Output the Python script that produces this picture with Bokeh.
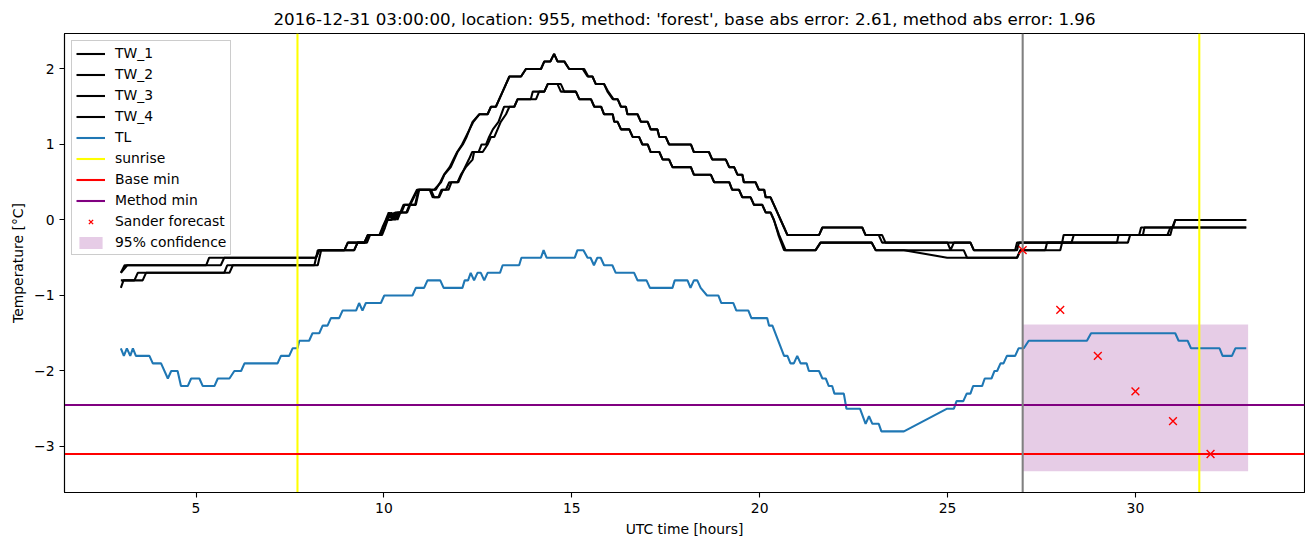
from bokeh.plotting import figure
from bokeh.models import Range1d, FixedTicker, Legend, LegendItem
from bokeh.embed import file_html
from bokeh.resources import INLINE

TITLE = "2016-12-31 03:00:00, location: 955, method: 'forest', base abs error: 2.61, method abs error: 1.96"

# ---------------- data ----------------
tw1_t = [3.0, 3.1, 5.27, 5.35, 8.19, 8.28, 8.95, 9.04, 9.48, 9.57, 9.88, 9.96, 10.05, 10.13, 10.22, 10.3,
         10.47, 10.55, 10.85, 10.94, 11.34, 11.52, 11.61, 11.78, 11.87, 11.96, 12.1, 12.2, 12.28, 12.36,
         12.54, 12.76, 12.85, 12.98, 13.16, 13.34, 13.65, 13.78, 14.18, 14.27, 14.43, 14.53, 14.62, 14.80,
         14.93, 15.29, 15.42, 15.55, 15.64, 15.86, 15.95, 16.09, 16.22, 16.31, 16.44, 16.48, 16.75, 16.84,
         17.02, 17.10, 17.28, 17.33, 17.50, 17.59, 18.17, 18.25, 18.65, 18.74, 19.10, 19.19, 19.32, 19.41,
         19.54, 19.58, 19.89, 19.98, 20.12, 20.16, 20.29, 20.38, 20.47, 20.56, 20.65, 20.74, 21.58, 21.67,
         22.73, 22.82, 23.26, 23.35, 25.61, 25.70, 26.80, 26.85, 28.05, 28.09, 30.10, 30.15, 30.98, 31.06,
         32.95]
tw1_v = [-0.7, -0.6, -0.6, -0.5, -0.5, -0.4, -0.4, -0.3, -0.3, -0.2, -0.2, -0.1, 0.0, 0.1, 0.0, 0.1,
         0.1, 0.2, 0.2, 0.4, 0.4, 0.5, 0.6, 0.7, 0.8, 0.9, 1.0, 1.1, 1.2, 1.3,
         1.4, 1.4, 1.5, 1.5, 1.7, 1.9, 1.9, 2.0, 2.0, 2.1, 2.1, 2.2, 2.1, 2.1,
         2.0, 2.0, 1.9, 1.9, 1.8, 1.8, 1.7, 1.6, 1.6, 1.5, 1.5, 1.4, 1.4, 1.3,
         1.3, 1.2, 1.2, 1.1, 1.1, 1.0, 1.0, 0.9, 0.9, 0.8, 0.8, 0.7, 0.7, 0.6,
         0.6, 0.5, 0.5, 0.4, 0.4, 0.3, 0.3, 0.2, 0.1, 0.0, -0.1, -0.2, -0.2, -0.1,
         -0.1, -0.2, -0.2, -0.3, -0.3, -0.4, -0.4, -0.3, -0.3, -0.2, -0.2, -0.1, -0.1, 0.0,
         0.0]

tw2_t = [3.0, 3.17, 5.66, 5.75, 8.19, 8.28, 9.21, 9.3, 9.5, 9.6, 9.9, 9.98, 10.08, 10.2, 10.28, 10.36,
         10.44, 10.52, 10.83, 10.92, 11.38, 11.5, 11.6, 11.75, 11.85, 11.95, 12.08, 12.18, 12.28, 12.38,
         12.54, 12.76, 12.85, 12.98, 13.16, 13.34, 13.65, 13.78, 14.18, 14.27, 14.43, 14.53, 14.62, 14.80,
         14.93, 15.33, 15.44, 15.55, 15.64, 15.86, 15.97, 16.11, 16.22, 16.31, 16.44, 16.48, 16.75, 16.84,
         17.02, 17.10, 17.28, 17.33, 17.50, 17.59, 18.17, 18.25, 18.65, 18.74, 19.10, 19.19, 19.32, 19.41,
         19.54, 19.58, 19.89, 19.98, 20.12, 20.16, 20.29, 20.38, 20.47, 20.56, 20.65, 20.74, 21.58, 21.67,
         22.73, 22.82, 23.17, 23.26, 25.0, 25.08, 25.17, 25.61, 25.70, 26.85, 26.9, 28.3, 28.36, 30.2,
         30.24, 31.0, 31.06, 32.95]
tw2_v = [-0.7, -0.6, -0.6, -0.5, -0.5, -0.4, -0.4, -0.3, -0.3, -0.2, -0.2, -0.1, 0.0, 0.0, 0.1, 0.0,
         0.1, 0.2, 0.2, 0.4, 0.4, 0.5, 0.6, 0.7, 0.8, 0.9, 1.0, 1.1, 1.2, 1.3,
         1.4, 1.4, 1.5, 1.5, 1.7, 1.9, 1.9, 2.0, 2.0, 2.1, 2.1, 2.2, 2.1, 2.1,
         2.0, 2.0, 1.9, 1.9, 1.8, 1.8, 1.7, 1.6, 1.6, 1.5, 1.5, 1.4, 1.4, 1.3,
         1.3, 1.2, 1.2, 1.1, 1.1, 1.0, 1.0, 0.9, 0.9, 0.8, 0.8, 0.7, 0.7, 0.6,
         0.6, 0.5, 0.5, 0.4, 0.4, 0.3, 0.3, 0.2, 0.1, 0.0, -0.1, -0.2, -0.2, -0.1,
         -0.1, -0.2, -0.2, -0.3, -0.3, -0.4, -0.3, -0.3, -0.4, -0.4, -0.3, -0.3, -0.2, -0.2,
         -0.1, -0.1, 0.0, 0.0]

tw3_t = [3.0, 3.07, 3.36, 3.45, 5.75, 5.83, 8.15, 8.24, 8.95, 9.04, 9.48, 9.57, 9.95, 10.03, 10.1, 10.2,
         10.3, 10.4, 10.62, 10.7, 10.8, 10.9, 11.25, 11.34, 11.47, 11.56, 11.65, 11.74, 11.96, 12.05,
         12.18, 12.36, 12.40, 12.63, 12.76, 12.85, 12.94, 13.11, 13.25, 13.34, 13.47, 13.56, 13.91, 13.96,
         14.27, 14.36, 14.62, 14.71, 15.11, 15.20, 15.51, 15.60, 15.78, 15.86, 16.09, 16.13, 16.22, 16.31,
         16.53, 16.62, 16.79, 16.88, 17.02, 17.10, 17.33, 17.42, 17.59, 17.68, 18.17, 18.25, 18.70, 18.79,
         19.19, 19.27, 19.45, 19.54, 19.76, 19.85, 20.07, 20.16, 20.29, 20.38, 20.5, 20.65, 21.49, 21.62,
         22.98, 23.09, 23.84, 24.99, 26.85, 26.94, 27.6, 27.65, 29.51, 29.55, 30.85, 30.93, 32.95]
tw3_v = [-0.9, -0.8, -0.8, -0.7, -0.7, -0.6, -0.6, -0.4, -0.4, -0.3, -0.3, -0.2, -0.2, -0.1, 0.0, 0.1,
         0.0, 0.1, 0.1, 0.2, 0.3, 0.4, 0.4, 0.3, 0.3, 0.4, 0.4, 0.5, 0.5, 0.6,
         0.7, 0.8, 0.9, 0.9, 1.0, 1.1, 1.1, 1.3, 1.4, 1.5, 1.5, 1.6, 1.6, 1.7,
         1.7, 1.8, 1.8, 1.7, 1.7, 1.6, 1.6, 1.5, 1.5, 1.4, 1.4, 1.3, 1.3, 1.2,
         1.2, 1.1, 1.1, 1.0, 1.0, 0.9, 0.9, 0.8, 0.8, 0.7, 0.7, 0.6, 0.6, 0.5,
         0.5, 0.4, 0.4, 0.3, 0.3, 0.2, 0.2, 0.1, 0.1, 0.0, -0.2, -0.4, -0.4, -0.3,
         -0.3, -0.4, -0.4, -0.5, -0.5, -0.4, -0.4, -0.3, -0.3, -0.2, -0.2, -0.1, -0.1]

tw4_t = [3.0, 3.58, 3.67, 5.89, 5.98, 8.24, 8.33, 9.21, 9.3, 9.55, 9.63, 9.9, 9.98, 10.08, 10.15, 10.25,
         10.35, 10.6, 10.68, 10.78, 10.88, 11.22, 11.3, 11.45, 11.53, 11.72, 11.8, 11.98, 12.07, 12.16,
         12.26, 12.35, 12.52, 12.6, 12.72, 12.8, 12.9, 13.05, 13.2, 13.47, 13.56, 14.05, 14.13, 14.27,
         14.36, 14.71, 14.80, 15.11, 15.20, 15.51, 15.60, 15.78, 15.86, 16.09, 16.13, 16.22, 16.31, 16.53,
         16.62, 16.79, 16.88, 17.02, 17.10, 17.33, 17.42, 17.59, 17.68, 18.17, 18.25, 18.70, 18.79, 19.19,
         19.27, 19.45, 19.54, 19.76, 19.85, 20.07, 20.16, 20.29, 20.38, 20.52, 20.69, 21.49, 21.62, 22.98,
         23.09, 25.43, 25.52, 26.85, 26.94, 28.0, 28.05, 29.8, 29.86, 30.93, 30.98, 32.95]
tw4_v = [-0.8, -0.8, -0.7, -0.7, -0.6, -0.6, -0.4, -0.4, -0.3, -0.3, -0.2, -0.2, -0.1, 0.0, 0.1, 0.0,
         0.1, 0.1, 0.2, 0.3, 0.4, 0.4, 0.3, 0.3, 0.4, 0.4, 0.5, 0.5, 0.6, 0.7,
         0.8, 0.9, 0.9, 1.0, 1.0, 1.1, 1.2, 1.3, 1.5, 1.5, 1.6, 1.6, 1.7, 1.7,
         1.8, 1.8, 1.7, 1.7, 1.6, 1.6, 1.5, 1.5, 1.4, 1.4, 1.3, 1.3, 1.2, 1.2,
         1.1, 1.1, 1.0, 1.0, 0.9, 0.9, 0.8, 0.8, 0.7, 0.7, 0.6, 0.6, 0.5, 0.5,
         0.4, 0.4, 0.3, 0.3, 0.2, 0.2, 0.1, 0.1, 0.0, -0.2, -0.4, -0.4, -0.3, -0.3,
         -0.4, -0.4, -0.5, -0.5, -0.4, -0.4, -0.3, -0.3, -0.2, -0.2, -0.1, -0.1]

tl_t = [3.0, 3.08, 3.16, 3.25, 3.32, 3.40, 3.76, 3.85, 4.07, 4.25, 4.34, 4.51, 4.60, 4.78, 4.87, 5.09,
        5.18, 5.49, 5.58, 5.89, 6.02, 6.20, 6.29, 7.17, 7.26, 7.48, 7.57, 7.70, 7.75, 8.01, 8.10, 8.28,
        8.37, 8.50, 8.59, 8.81, 8.90, 9.26, 9.34, 9.43, 9.52, 9.92, 10.01, 10.76, 10.85, 11.07, 11.16,
        11.50, 11.59, 12.09, 12.15, 12.24, 12.31, 12.40, 12.49, 12.58, 12.67, 12.76, 13.09, 13.16, 13.60,
        13.66, 14.18, 14.25, 14.33, 15.08, 15.15, 15.31, 15.42, 15.50, 15.59, 15.68, 15.77, 15.86, 16.08,
        16.17, 16.66, 16.75, 16.99, 17.08, 17.68, 17.74, 18.08, 18.16, 18.25, 18.34, 18.43, 18.6, 18.9,
        18.98, 19.3, 19.38, 19.7, 19.78, 20.20, 20.25, 20.34, 20.65, 20.74, 20.82, 20.91, 21.00, 21.09,
        21.25, 21.31, 21.58, 21.67, 21.76, 21.84, 21.93, 21.99, 22.24, 22.31, 22.67, 22.82, 22.91, 23.0,
        23.17, 23.24, 23.84, 24.99, 25.17, 25.24, 25.42, 25.51, 25.61, 25.68, 25.92, 25.99, 26.17, 26.25,
        26.32, 26.41, 26.49, 26.58, 26.80, 26.89, 27.03, 27.16, 28.71, 28.82, 31.06, 31.15, 31.39, 31.48,
        32.24, 32.32, 32.57, 32.66, 32.95]
tl_v = [-1.7, -1.8, -1.7, -1.8, -1.7, -1.8, -1.8, -1.9, -1.9, -2.1, -2.0, -2.0, -2.2, -2.2, -2.1, -2.1,
        -2.2, -2.2, -2.1, -2.1, -2.0, -2.0, -1.9, -1.9, -1.8, -1.8, -1.7, -1.7, -1.6, -1.6, -1.5, -1.5,
        -1.4, -1.4, -1.3, -1.3, -1.2, -1.2, -1.1, -1.2, -1.1, -1.1, -1.0, -1.0, -0.9, -0.9, -0.8,
        -0.8, -0.9, -0.9, -0.8, -0.8, -0.7, -0.8, -0.7, -0.7, -0.8, -0.7, -0.7, -0.6, -0.6,
        -0.5, -0.5, -0.4, -0.5, -0.5, -0.4, -0.4, -0.5, -0.5, -0.6, -0.5, -0.5, -0.6, -0.6,
        -0.7, -0.7, -0.8, -0.8, -0.9, -0.9, -0.8, -0.8, -0.9, -0.8, -0.8, -0.9, -1.0, -1.0,
        -1.1, -1.1, -1.2, -1.2, -1.3, -1.3, -1.4, -1.4, -1.8, -1.8, -1.9, -1.9, -1.8, -1.9,
        -1.9, -2.0, -2.0, -2.1, -2.1, -2.2, -2.2, -2.3, -2.3, -2.5, -2.5, -2.7, -2.6, -2.7,
        -2.7, -2.8, -2.8, -2.5, -2.5, -2.4, -2.4, -2.3, -2.3, -2.2, -2.2, -2.1, -2.1, -2.0,
        -2.0, -1.9, -1.9, -1.8, -1.8, -1.7, -1.7, -1.6, -1.6, -1.5, -1.5, -1.6, -1.6, -1.7,
        -1.7, -1.8, -1.8, -1.7, -1.7]

sunrise_t = [7.7, 31.7]
forecast_start = 27.0
base_min = -3.1
method_min = -2.45
sander_t = [27, 28, 29, 30, 31, 32]
sander_v = [-0.4, -1.19, -1.8, -2.27, -2.665, -3.1]
conf_t = [27.0, 33.0]
conf_lo = [-3.33, -3.33]
conf_hi = [-1.385, -1.385]

x_lim = (1.5, 34.5)
y_lim = (-3.61, 2.47)
x_ticks = [5, 10, 15, 20, 25, 30]
y_ticks = [-3, -2, -1, 0, 1, 2]

FONT = "DejaVu Sans"
LW = 2.08

p = figure(width=1305, height=539, output_backend="svg", toolbar_location=None,
           x_range=Range1d(*x_lim), y_range=Range1d(*y_lim),
           min_border_left=64, min_border_right=1, min_border_top=33, min_border_bottom=45)
p.title.text = TITLE
p.title.align = "center"
p.title.text_font = FONT
p.title.text_font_size = "16.7px"
p.title.text_font_style = "normal"
p.title.text_color = "black"
p.title.standoff = 9

p.xgrid.visible = False
p.ygrid.visible = False
p.outline_line_color = "black"
p.outline_line_alpha = 1.0
p.outline_line_width = 1.1

for ax in (p.xaxis, p.yaxis):
    ax.major_tick_out = 5
    ax.major_tick_in = 0
    ax.minor_tick_out = 0
    ax.minor_tick_in = 0
    ax.major_label_text_font = FONT
    ax.major_label_text_font_size = "13.9px"
    ax.major_label_text_color = "black"
    ax.axis_label_text_font = FONT
    ax.axis_label_text_font_size = "13.9px"
    ax.axis_label_text_font_style = "normal"
    ax.axis_label_text_color = "black"
    ax.axis_line_color = "black"
    ax.axis_line_width = 1.1
    ax.major_tick_line_color = "black"
    ax.major_tick_line_width = 1.1

p.xaxis.ticker = FixedTicker(ticks=x_ticks)
p.yaxis.ticker = FixedTicker(ticks=y_ticks)
p.yaxis.major_label_overrides = {t: (("\u2212" + str(abs(t))) if t < 0 else str(t)) for t in y_ticks}
p.xaxis.axis_label = "UTC time [hours]"
p.yaxis.axis_label = "Temperature [\u00b0C]"

# confidence band (below everything)
r_conf = p.varea(x=conf_t, y1=conf_lo, y2=conf_hi, fill_color="purple", fill_alpha=0.2)

r_tw1 = p.line(tw1_t, tw1_v, line_color="black", line_width=LW)
r_tw2 = p.line(tw2_t, tw2_v, line_color="black", line_width=LW)
r_tw3 = p.line(tw3_t, tw3_v, line_color="black", line_width=LW)
r_tw4 = p.line(tw4_t, tw4_v, line_color="black", line_width=LW)
r_tl = p.line(tl_t, tl_v, line_color="#1f77b4", line_width=LW)

# full-height / full-width reference lines spanning the axis limits
r_sun = p.multi_line(xs=[[t, t] for t in sunrise_t], ys=[list(y_lim) for _ in sunrise_t],
                     line_color="yellow", line_width=LW)
r_base = p.line(x=list(x_lim), y=[base_min, base_min], line_color="red", line_width=LW)
r_meth = p.line(x=list(x_lim), y=[method_min, method_min], line_color="purple", line_width=LW)
p.line(x=[forecast_start, forecast_start], y=list(y_lim), line_color="gray", line_width=LW)
r_sander = p.scatter(sander_t, sander_v, marker="x", size=11, line_color="red", line_width=1.4)

legend = Legend(items=[
    LegendItem(label="TW_1", renderers=[r_tw1]),
    LegendItem(label="TW_2", renderers=[r_tw2]),
    LegendItem(label="TW_3", renderers=[r_tw3]),
    LegendItem(label="TW_4", renderers=[r_tw4]),
    LegendItem(label="TL", renderers=[r_tl]),
    LegendItem(label="sunrise", renderers=[r_sun]),
    LegendItem(label="Base min", renderers=[r_base]),
    LegendItem(label="Method min", renderers=[r_meth]),
    LegendItem(label="Sander forecast", renderers=[r_sander]),
    LegendItem(label="95% confidence", renderers=[r_conf]),
], location="top_left")
legend.margin = 7
legend.padding = 4
legend.spacing = 5
legend.glyph_width = 29
legend.glyph_height = 15
legend.label_height = 15
legend.label_standoff = 10
legend.label_text_font = FONT
legend.label_text_font_size = "13.9px"
legend.label_text_color = "black"
legend.border_line_color = "#cccccc"
legend.border_line_alpha = 1.0
legend.background_fill_alpha = 0.8
p.add_layout(legend)

open("out.html", "w").write(file_html(p, INLINE))
